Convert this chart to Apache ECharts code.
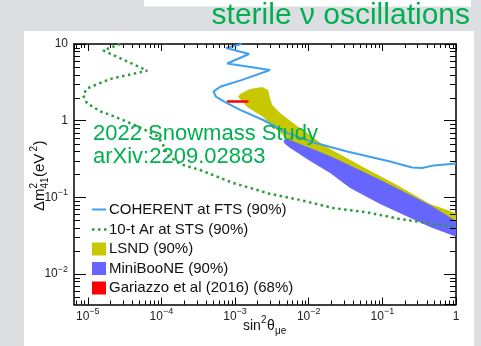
<!DOCTYPE html>
<html><head><meta charset="utf-8">
<script src="https://cdn.jsdelivr.net/npm/echarts@6/dist/echarts.min.js"></script>
<style>html,body{margin:0;padding:0;background:#dddee1;}#c{width:481px;height:346px;}</style>
</head><body><div id="c"></div>
<script>
// ---- data (sin^2 theta_mue , Delta m^2_41 [eV^2]) ----
const xMin = 6.5e-6, xMax = 1;
const yMin = 0.004, yMax = 10;
const xTickLabels = ['10^-5','10^-4','10^-3','10^-2','10^-1','1'];
const yTickLabels = ['10^-2','10^-1','1','10'];

const coherentX = [1.23e-3, 7.57e-4, 1.55e-3, 7.81e-4, 2.99e-3, 1.25e-3, 6.28e-4, 5.09e-4, 5.54e-4, 7.34e-4, 1.17e-3, 2.41e-3, 5.09e-3, 0.0111, 0.0332, 0.1272, 0.253, 0.346, 0.503, 1];
const coherentY = [10, 8.87, 7.41, 5.57, 4.58, 3.40, 2.77, 2.39, 2.04, 1.75, 1.38, 1.02, 0.692, 0.528, 0.397, 0.294, 0.245, 0.2416, 0.261, 0.277];

const arX = [2.76e-5, 1.62e-5, 6.42e-5, 2.02e-5, 9.84e-6, 8.61e-6, 9.75e-6, 1.48e-5, 2.02e-5, 4.65e-5, 8.69e-5, 1.03e-4, 1.20e-4, 1.80e-4, 3.36e-4, 9.42e-4, 2.99e-3, 7.64e-3, 0.0214, 0.062, 0.174, 0.488, 1];
const arY = [10, 8.23, 4.49, 3.50, 2.64, 2.16, 1.69, 1.32, 1.19, 0.853, 0.632, 0.512, 0.357, 0.272, 0.227, 0.154, 0.111, 0.0924, 0.0727, 0.0636, 0.0522, 0.045, 0.0411];

const lsndX = [1.10e-3, 1.17e-3, 1.60e-3, 2.33e-3, 2.81e-3, 2.95e-3, 3.19e-3, 4.09e-3, 6.96e-3, 0.01045, 0.01568, 0.0547, 0.158, 0.444, 1,
               1, 0.444, 0.0931, 0.0195, 7.64e-3, 4.94e-3, 2.99e-3, 2.41e-3, 1.46e-3, 1.17e-3];
const lsndY = [2.04, 2.23, 2.59, 2.75, 2.51, 2.04, 1.60, 1.26, 0.853, 0.651, 0.482, 0.249, 0.145, 0.082, 0.0626,
               0.0478, 0.0685, 0.1326, 0.307, 0.468, 0.595, 0.906, 1.117, 1.51, 1.92];

const mbX = [4.50e-3, 4.94e-3, 7.64e-3, 0.0195, 0.0931, 0.444, 1, 1, 0.444, 0.0931, 0.0365, 0.0195, 0.01045, 5.60e-3, 4.78e-3];
const mbY = [0.544, 0.585, 0.497, 0.347, 0.169, 0.0796, 0.0492, 0.0305, 0.0411, 0.082, 0.1326, 0.208, 0.298, 0.441, 0.497];

const garX = [7.74e-4, 1.52e-3];
const garY = [1.78, 1.78];

const zip = (a, b) => a.map((v, i) => [v, b[i]]);

const GREEN = '#00b050';
const chart = echarts.init(document.getElementById('c'), null, {renderer: 'canvas'});

function supLabel(v) {
  const l = Math.log10(v), e = Math.round(l);
  if (Math.abs(l - e) > 1e-6) return '';
  const s = e === 0 ? '1' : (e === 1 ? '10' : '10^' + String(e));
  if (s.indexOf('^') < 0) return '{b|' + s + '}';
  const parts = s.split('^');
  return '{b|' + parts[0] + '}{s|' + parts[1].replace('-', '\u2212') + '}';
}
const labRich = {
  b: {fontSize: 12, lineHeight: 18, fontFamily: 'Liberation Sans', color: '#222'},
  s: {fontSize: 9, lineHeight: 9, verticalAlign: 'top', fontFamily: 'Liberation Sans', color: '#222'}
};

function poly(name, xs, ys, color) {
  const pts = zip(xs, ys);
  return {
    type: 'custom', name: name, xAxisIndex: 0, yAxisIndex: 0, silent: true, z: 2,
    data: [pts[0]],
    renderItem: function (params, api) {
      return {type: 'polygon', shape: {points: pts.map(p => api.coord(p))}, style: {fill: color}};
    }
  };
}

const axisLine = {show: true, lineStyle: {color: '#000', width: 1.5}};
const option = {
  animation: false,
  backgroundColor: '#dddee1',
  grid: {left: 74, right: 25, top: 44, bottom: 41.5, containLabel: false, outerBoundsMode: 'none'},
  xAxis: [
    {type: 'log', logBase: 10, min: xMin, max: xMax, position: 'bottom', axisLine: axisLine,
     axisTick: {inside: true, length: 7, lineStyle: {color: '#000', width: 1}},
     splitLine: {show: false},
     axisLabel: {margin: 3, formatter: supLabel, rich: labRich, showMinLabel: false}},
    {type: 'log', logBase: 10, min: xMin, max: xMax, position: 'top', axisLine: axisLine,
     axisTick: {inside: true, length: 7, lineStyle: {color: '#000', width: 1}},
     splitLine: {show: false}, axisLabel: {show: false}}
  ],
  yAxis: [
    {type: 'log', logBase: 10, min: yMin, max: yMax, position: 'left', axisLine: axisLine,
     axisTick: {inside: true, length: 12, lineStyle: {color: '#000', width: 1}},
     splitLine: {show: false},
     axisLabel: {margin: 6, formatter: supLabel, rich: labRich, showMinLabel: false}},
    {type: 'log', logBase: 10, min: yMin, max: yMax, position: 'right', axisLine: axisLine,
     axisTick: {inside: true, length: 12, lineStyle: {color: '#000', width: 1}},
     splitLine: {show: false}, axisLabel: {show: false}}
  ],
  series: [
    poly('LSND (90%)', lsndX, lsndY, '#c8c800'),
    poly('MiniBooNE (90%)', mbX, mbY, '#6666ff'),
    {type: 'line', name: 'Gariazzo et al (2016) (68%)', data: zip(garX, garY), showSymbol: false, z: 3,
     lineStyle: {color: '#ff0000', width: 2.5}},
    {type: 'line', name: 'COHERENT at FTS (90%)', data: zip(coherentX, coherentY), showSymbol: false, z: 4,
     lineStyle: {color: '#3f9ff0', width: 2}},
    {type: 'line', name: '10-t Ar at STS (90%)', data: zip(arX, arY), showSymbol: false, z: 5,
     lineStyle: {color: '#2a9d3a', width: 2.5, type: [2.5, 3.5]}}
  ]
};
chart.setOption(option);

// ---- decorations: panel, titles, legend, minor ticks ----
const X = v => chart.convertToPixel({xAxisIndex: 0}, v);
const Y = v => chart.convertToPixel({yAxisIndex: 0}, v);
const g = [];
g.push({type: 'rect', z: -10, shape: {x: 24, y: 31, width: 450, height: 315}, style: {fill: '#ffffff'}, silent: true});
g.push({type: 'rect', z: -10, shape: {x: 144, y: 0, width: 327, height: 6.5}, style: {fill: '#ffffff'}, silent: true});
g.push({type: 'text', z: 10, x: 470, y: 16, style: {text: 'sterile \u03bd oscillations', fill: GREEN, font: '30px "Liberation Sans"', align: 'right', verticalAlign: 'middle'}});

const xL = X(xMin), xR = X(xMax), yT = Y(yMax), yB = Y(yMin);
function tick(x1, y1, x2, y2) { g.push({type: 'line', z: 6, silent: true, shape: {x1, y1, x2, y2}, style: {stroke: '#000', lineWidth: 1}}); }
for (let d = -6; d <= 0; d++) for (let k = 2; k <= 9; k++) {
  const v = k * Math.pow(10, d);
  if (v <= xMin || v >= xMax) continue;
  const p = Math.round(X(v)) + 0.5;
  tick(p, yB, p, yB - 4); tick(p, yT, p, yT + 4);
}
for (let d = -3; d <= 1; d++) for (let k = 2; k <= 9; k++) {
  const v = k * Math.pow(10, d);
  if (v <= yMin || v >= yMax) continue;
  const p = Math.round(Y(v)) + 0.5;
  tick(xL, p, xL + 6, p); tick(xR, p, xR - 6, p);
}

// annotation
g.push({type: 'text', z: 10, x: 93, y: 133.5, style: {text: '2022 Snowmass Study', fill: GREEN, font: '22px "Liberation Sans"', verticalAlign: 'middle'}});
g.push({type: 'text', z: 10, x: 93, y: 157, style: {text: 'arXiv:2209.02883', fill: GREEN, font: '22px "Liberation Sans"', verticalAlign: 'middle'}});

// legend
const legF = '15px "Liberation Sans"';
const legRows = [
  {name: 'COHERENT at FTS (90%)', kind: 'line', color: '#3f9ff0', y: 209.5},
  {name: '10-t Ar at STS (90%)', kind: 'dot', color: '#2a9d3a', y: 229.5},
  {name: 'LSND (90%)', kind: 'box', color: '#c8c800', y: 249},
  {name: 'MiniBooNE (90%)', kind: 'box', color: '#6666ff', y: 268.5},
  {name: 'Gariazzo et al (2016) (68%)', kind: 'box', color: '#ff0000', y: 288}
];
legRows.forEach(r => {
  if (r.kind === 'line') g.push({type: 'line', z: 10, shape: {x1: 92, y1: r.y, x2: 106, y2: r.y}, style: {stroke: r.color, lineWidth: 2}});
  else if (r.kind === 'dot') g.push({type: 'line', z: 10, shape: {x1: 92, y1: r.y, x2: 107, y2: r.y}, style: {stroke: r.color, lineWidth: 2.5, lineDash: [2.5, 3.5]}});
  else g.push({type: 'rect', z: 10, shape: {x: 92, y: r.y - 6.5, width: 14, height: 13}, style: {fill: r.color}});
  g.push({type: 'text', z: 10, x: 109, y: r.y, style: {text: r.name, fill: '#111', font: legF, verticalAlign: 'middle'}});
});

// x-axis title: sin^2 theta_mue
const tf = '"Liberation Sans"';
const T = (text, x, y, size) => ({type: 'text', x: x, y: y, style: {text: text, font: size + 'px ' + tf, fill: '#111', verticalAlign: 'middle'}});
g.push({type: 'group', z: 10, x: 243, y: 326, children: [
  T('sin', 0, 0, 14), T('2', 18, -6, 10), T('\u03b8', 24, 0, 14), T('\u03bce', 32, 5, 10)
]});
// y-axis title: Delta m^2_41 (eV^2), rotated
g.push({type: 'group', z: 10, x: 40, y: 211, rotation: Math.PI / 2, children: [
  T('\u0394m', 0, 0, 15), T('2', 22.5, -6, 10), T('41', 22.5, 5, 10),
  T('(eV', 34, 0, 15), T('2', 59.5, -6, 10), T(')', 65.5, 0, 15)
]});
chart.setOption({graphic: g});
</script>
</body></html>
